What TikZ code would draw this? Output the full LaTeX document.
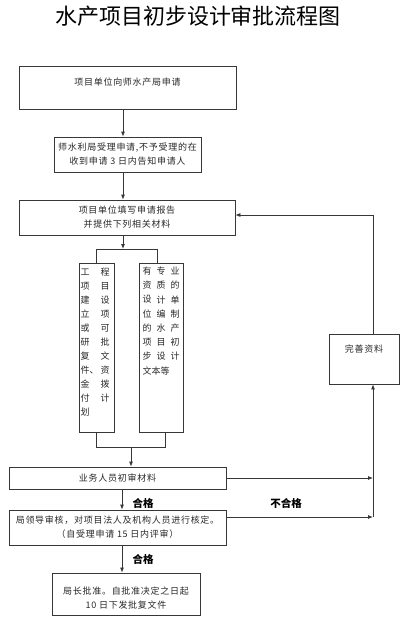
\documentclass[tikz,border=0pt]{standalone}
\usepackage{fontspec}
\setmainfont{Noto Sans CJK SC}
\newfontfamily\bodyfont[LetterSpace=8]{Noto Sans CJK SC}
\usetikzlibrary{arrows.meta,calc}
\definecolor{linec}{RGB}{55,55,55}
\definecolor{txtc}{RGB}{40,40,40}
\begin{document}
\begin{tikzpicture}[x=1pt,y=-1pt,
  box/.style={draw=linec, line width=0.8pt, rectangle, inner sep=0pt, align=center,
    font=\bodyfont\fontsize{9}{14}\selectfont, text=txtc},
  txt/.style={inner sep=0pt, align=center, font=\bodyfont\fontsize{9}{14}\selectfont, text=txtc},
  arr/.style={draw=linec, line width=0.8pt, -{Latex[length=5pt,width=4pt]}},
  ln/.style={draw=linec, line width=0.8pt},
  ch/.style={inner sep=0pt, font=\fontsize{9}{10}\selectfont, text=txtc},
  lbl/.style={inner sep=0pt, font=\fontsize{10.5}{12}\selectfont\bfseries, text=black}]
\fill[white] (0,0) rectangle (407,624);
\useasboundingbox (0,0) rectangle (407,624);

\node[inner sep=0pt, font=\fontsize{22}{24}\selectfont] (title) at (198,16) {水产项目初步设计审批流程图};

\node[box, minimum width=217pt, minimum height=43pt] (b1) at (127.5,87.5) {};
\node[txt] (b1t) at (127.5,82) {项目单位向师水产局申请};
\node[box, minimum width=147pt, minimum height=35pt] (b2) at (127.5,154.5) {师水利局受理申请,不予受理的在\\收到申请 3 日内告知申请人};
\node[box, minimum width=216pt, minimum height=35pt] (b3) at (127,217.5) {项目单位填写申请报告\\并提供下列相关材料};
\node[box, minimum width=35pt, minimum height=169pt] (tl) at (96.5,347.5) {};
\node[box, minimum width=44pt, minimum height=169pt] (tr) at (161,347.5) {};
\node[box, minimum width=217pt, minimum height=22pt] (b4) at (117.5,478) {业务人员初审材料};
\node[box, minimum width=217pt, minimum height=35pt] (b5) at (117.5,527.5) {局领导审核，对项目法人及机构人员进行核定。\\（自受理申请 15 日内评审）};
\node[box, minimum width=148pt, minimum height=42pt] (b6) at (126,594) {};
\node[txt] (b6t) at (126,598) {局长批准。自批准决定之日起\\10 日下发批复文件};
\node[box, minimum width=70pt, minimum height=50pt] (ws) at (364,359) {};
\node[txt] (wst) at (364,349) {完善资料};

% vertical text in tall boxes
\foreach \c [count=\i] in {工,项,建,立,或,研,复,{件\rlap{、}},金,付,划}
  \node[ch] (la\i) at (85,258+14*\i) {\c};
\foreach \c [count=\i] in {程,目,设,项,可,批,文,资,拨,计}
  \node[ch] (lb\i) at (105,258+14*\i) {\c};
\foreach \c [count=\i] in {有,资,设,位,的,项,步}
  \node[ch] (ra\i) at (147,257+14.2*\i) {\c};
\foreach \c [count=\i] in {专,质,计,编,水,目,设}
  \node[ch] (rb\i) at (161,257+14.2*\i) {\c};
\foreach \c [count=\i] in {业,的,单,制,产,初,计}
  \node[ch] (rc\i) at (175,257+14.2*\i) {\c};
\node[ch, anchor=west] (rlast) at (142.5,370.6) {文本等};

% connectors
\coordinate (c123) at (123,0);
\coordinate (c122) at (122,0);
\draw[arr] (b1.south -| c123) -- (b2.north -| c123);
\draw[arr] (b2.south -| c123) -- (b3.north -| c123);
\coordinate (tp) at (123,249);
\coordinate (tpl) at (96,249);
\coordinate (tpr) at (157,249);
\draw[arr] (b3.south -| c123) -- (tp);
\draw[ln] (tl.north -| tpl) -- (tpl) -- (tpr) -- (tr.north -| tpr);
\coordinate (bpl) at (96,447);
\coordinate (bpr) at (165,447);
\coordinate (bpm) at (131,447);
\draw[ln] (tl.south -| bpl) -- (bpl) -- (bpr) -- (tr.south -| bpr);
\draw[arr] (bpm) -- (b4.north -| bpm);
\draw[arr] (b4.south -| c122) -- (b5.north -| c122);
\draw[arr] (b5.south -| c122) -- (b6.north -| c122);

\coordinate (r1) at (373,478);
\coordinate (r2) at (373,517);
\coordinate (r3) at (373,215);
\draw[arr] (b4.east) -- (r1);
\draw[arr] (b5.east |- r2) -- (r2);
\draw[arr] (r2) -- (ws.south -| r2);
\draw[arr] (ws.north -| r3) -- (r3) -- (b3.east |- r3);

\node[lbl] (g1) at (143,503) {合格};
\node[lbl] (g2) at (143,559) {合格};
\node[lbl] (ng) at (286,503) {不合格};
\end{tikzpicture}
\end{document}
